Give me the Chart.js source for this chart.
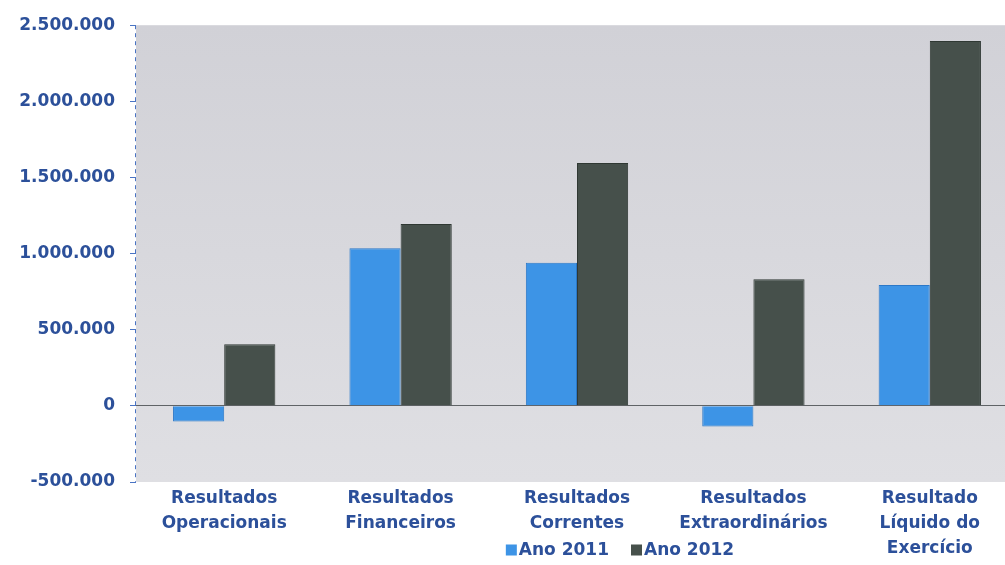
<!DOCTYPE html>
<html>
<head>
<meta charset="utf-8">
<script src="https://cdn.jsdelivr.net/npm/chart.js@4"></script>
<style>
  html, body { margin: 0; padding: 0; background: #fff; overflow: hidden; }
  #wrap { width: 1020px; height: 565px; }
</style>
</head>
<body>
<div id="wrap"><canvas id="c"></canvas></div>
<script>
// Categories (multi-line labels) and series values
const categories = [
  ['Resultados', 'Operacionais'],
  ['Resultados', 'Financeiros'],
  ['Resultados', 'Correntes'],
  ['Resultados', 'Extraordinários'],
  ['Resultado', 'Líquido do', 'Exercício']
];
const ano2011 = [-103000, 1035000, 940000, -136000, 794000];
const ano2012 = [405000, 1194000, 1595000, 831000, 2397000];
const seriesNames = ['Ano 2011', 'Ano 2012'];
const yMin = -500000, yMax = 2500000, yStep = 500000;

const BLUE = '#3d94e6';
const GRAY = '#46504b';
const TEXT = '#2c509a';
const AXIS = '#4a74c4';
const FONT = 'DejaVu Sans';

// 1.234.567 style numbers
function fmt(v) {
  const s = Math.abs(v).toString().replace(/\B(?=(\d{3})+(?!\d))/g, '.');
  return (v < 0 ? '-' : '') + s;
}

// Gray gradient behind the plot area, dashed left axis
const plotBg = {
  id: 'plotBg',
  beforeDraw(chart) {
    const { ctx, chartArea: a } = chart;
    const g = ctx.createLinearGradient(0, a.top, 0, a.bottom);
    g.addColorStop(0, '#d1d1d7');
    g.addColorStop(1, '#dfdfe3');
    ctx.save();
    ctx.fillStyle = g;
    ctx.fillRect(a.left, a.top, a.right - a.left, a.bottom - a.top);
    ctx.strokeStyle = AXIS;
    ctx.lineWidth = 1;
    ctx.setLineDash([4, 4]);
    const x = Math.round(a.left) - 0.5;
    ctx.beginPath();
    ctx.moveTo(x, a.top);
    ctx.lineTo(x, a.bottom);
    ctx.stroke();
    ctx.restore();
  }
};

// Small legend drawn under the middle category
const bottomLegend = {
  id: 'bottomLegend',
  afterDraw(chart) {
    const ctx = chart.ctx;
    ctx.save();
    ctx.font = 'bold 17px "' + FONT + '"';
    ctx.textBaseline = 'middle';
    const box = 11, gap = 2, between = 22;
    const items = chart.data.datasets.map(d => ({ label: d.label, color: d.backgroundColor }));
    const widths = items.map(it => box + gap + ctx.measureText(it.label).width);
    const total = widths.reduce((a, b) => a + b, 0) + between * (items.length - 1);
    let x = 620 - total / 2;
    const y = 550;
    items.forEach((it, i) => {
      ctx.fillStyle = it.color;
      ctx.fillRect(x, y - box / 2, box, box);
      ctx.fillStyle = TEXT;
      ctx.fillText(it.label, x + box + gap, y + 1);
      x += widths[i] + between;
    });
    ctx.restore();
  }
};

new Chart(document.getElementById('c'), {
  type: 'bar',
  data: {
    labels: categories,
    datasets: [
      { label: seriesNames[0], data: ano2011, backgroundColor: BLUE, borderColor: '#2b78c8', borderWidth: 1 },
      { label: seriesNames[1], data: ano2012, backgroundColor: GRAY, borderColor: '#2f3833', borderWidth: 1 }
    ]
  },
  options: {
    responsive: true,
    maintainAspectRatio: false,
    animation: false,
    layout: { padding: { top: 25, right: 2, left: 0, bottom: 0 } },
    categoryPercentage: 0.58,
    barPercentage: 1.0,
    plugins: {
      legend: { display: false },
      tooltip: { enabled: false }
    },
    scales: {
      x: {
        grid: { display: false },
        border: { display: false },
        ticks: {
          color: TEXT,
          font: { family: FONT, size: 17, weight: 'bold', lineHeight: 1.47 },
          maxRotation: 0,
          autoSkip: false,
          padding: -4
        },
        afterFit(scale) { scale.height = 83; }
      },
      y: {
        min: yMin,
        max: yMax,
        ticks: {
          stepSize: yStep,
          color: TEXT,
          font: { family: FONT, size: 17, weight: 'bold' },
          padding: 15,
          callback: v => fmt(v)
        },
        grid: {
          drawOnChartArea: true,
          color: ctx => (ctx.tick && ctx.tick.value === 0) ? '#5f6366' : 'transparent',
          tickColor: AXIS,
          tickLength: 6,
          lineWidth: 1
        },
        border: { display: false },
        afterFit(scale) { scale.width = 136; }
      }
    }
  },
  plugins: [plotBg, bottomLegend]
});
</script>
</body>
</html>
